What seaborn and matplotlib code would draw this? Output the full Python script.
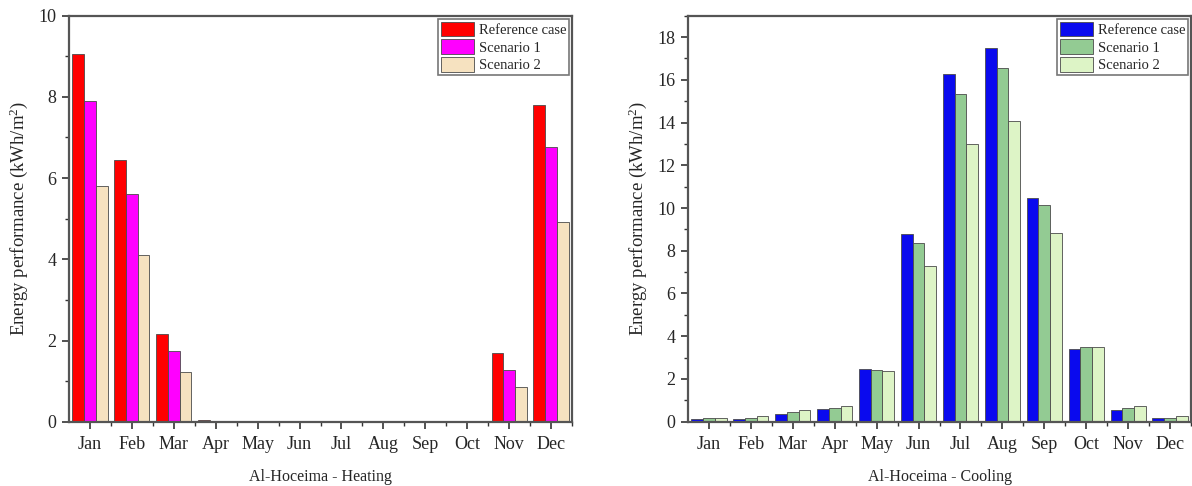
import numpy as np
import pandas as pd
import matplotlib
matplotlib.use("Agg")
import matplotlib.pyplot as plt
from matplotlib.ticker import MultipleLocator
import seaborn as sns

months = ["Jan", "Feb", "Mar", "Apr", "May", "Jun", "Jul", "Aug", "Sep", "Oct", "Nov", "Dec"]
series_names = ["Reference case", "Scenario 1", "Scenario 2"]

heat_ref = [9.05, 6.45, 2.15, 0.03, 0, 0, 0, 0, 0, 0, 1.68, 7.80]
heat_s1 = [7.90, 5.60, 1.75, 0.01, 0, 0, 0, 0, 0, 0, 1.28, 6.77]
heat_s2 = [5.80, 4.10, 1.22, 0.00, 0, 0, 0, 0, 0, 0, 0.86, 4.93]

cool_ref = [0.12, 0.12, 0.38, 0.60, 2.45, 8.78, 16.25, 17.50, 10.45, 3.42, 0.55, 0.18]
cool_s1 = [0.15, 0.15, 0.45, 0.65, 2.42, 8.38, 15.35, 16.55, 10.15, 3.48, 0.65, 0.18]
cool_s2 = [0.17, 0.27, 0.55, 0.75, 2.35, 7.30, 13.00, 14.05, 8.85, 3.48, 0.75, 0.25]

heat_colors = ["#FF0000", "#FF00FF", "#F6E2C0"]
cool_colors = ["#0A0AEE", "#93CB93", "#DDF4C6"]

sns.set_style("ticks")
plt.rcParams["font.family"] = ["Liberation Serif", "DejaVu Serif"]
plt.rcParams["mathtext.default"] = "regular"


def long_df(a, b, c):
    rows = []
    for name, vals in zip(series_names, [a, b, c]):
        for m, v in zip(months, vals):
            rows.append({"month": m, "value": v, "series": name})
    return pd.DataFrame(rows)


fig = plt.figure(figsize=(11.92, 4.86), dpi=100)
ax1 = fig.add_axes([69 / 1192, (486 - 421.7) / 486, 503 / 1192, 406 / 486])
ax2 = fig.add_axes([688 / 1192, (486 - 421.7) / 486, 503 / 1192, 406 / 486])

spine_col = "#555555"

for ax, df, pal, ymax, title in [
    (ax1, long_df(heat_ref, heat_s1, heat_s2), heat_colors, 10, "Al-Hoceima - Heating"),
    (ax2, long_df(cool_ref, cool_s1, cool_s2), cool_colors, 19, "Al-Hoceima - Cooling"),
]:
    sns.barplot(data=df, x="month", y="value", hue="series", palette=pal,
                width=0.84, gap=0, edgecolor="#4a4a4a", linewidth=0.6,
                saturation=1, ax=ax, errorbar=None)
    ax.set_xlim(-0.5, 11.5)
    ax.set_ylim(0, ymax)
    ax.yaxis.set_major_locator(MultipleLocator(2))
    ax.yaxis.set_minor_locator(MultipleLocator(1))
    ax.set_xticks(np.arange(12))
    ax.set_xticks(np.arange(12) + 0.5, minor=True)
    ax.set_xticklabels(months)
    for s in ax.spines.values():
        s.set_visible(True)
        s.set_color(spine_col)
        s.set_linewidth(1.6)
    ax.tick_params(axis="both", which="major", direction="out", length=5, width=1.2,
                   color="#333333", labelsize=13, pad=4)
    ax.tick_params(axis="both", which="minor", direction="out", length=3, width=1.0,
                   color="#333333")
    ax.tick_params(axis="x", which="major", pad=5)
    ax.set_xlabel(title, fontsize=11.5, labelpad=11.5)
    ax.set_ylabel("Energy performance (kWh/m$^{2}$)", fontsize=13.5, labelpad=6)
    leg = ax.legend(loc="upper right", fontsize=10.5, frameon=True, fancybox=False,
                    edgecolor=spine_col, handlelength=2.3, handleheight=1.2,
                    handletextpad=0.3, labelspacing=0.15, borderpad=0.2,
                    borderaxespad=0.2, title=None)
    leg.get_frame().set_linewidth(1.2)

fig.savefig("out.png", dpi=100)
